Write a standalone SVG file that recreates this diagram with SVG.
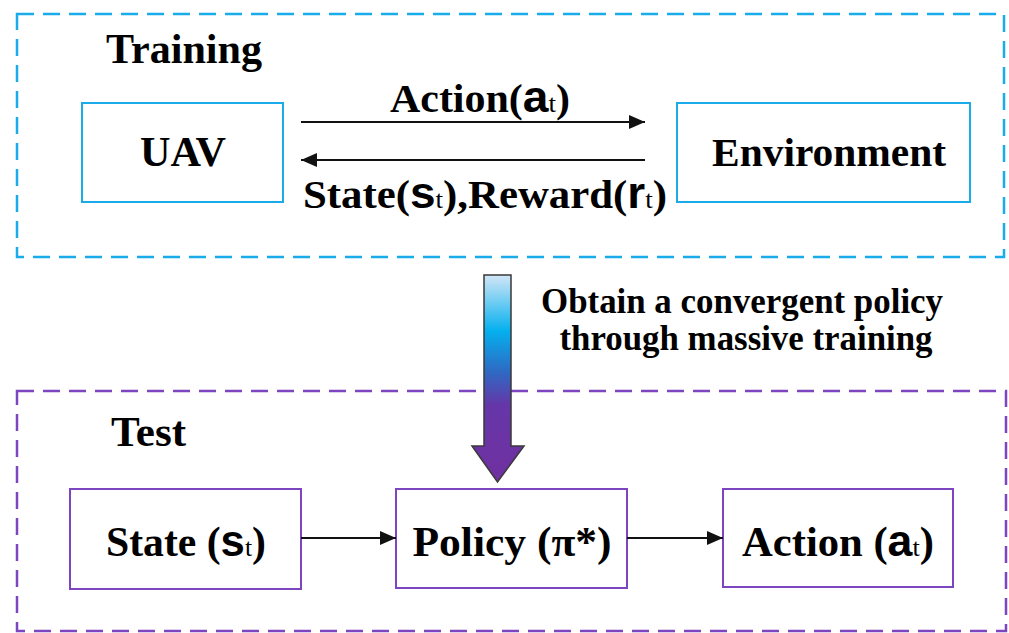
<svg xmlns="http://www.w3.org/2000/svg" width="1009" height="633" viewBox="0 0 1009 633">
  <style>
    .bg { fill: #ffffff; }
    .frame-train { fill: none; stroke: #1aabeb; stroke-width: 2.5; stroke-dasharray: 17 9; }
    .frame-test { fill: none; stroke: #7d45c0; stroke-width: 2.5; stroke-dasharray: 17 9; }
    .box-train { fill: #ffffff; stroke: #1aabeb; stroke-width: 2; }
    .box-test { fill: #ffffff; stroke: #7d45c0; stroke-width: 2; }
    .lbl { font-family: "Liberation Serif", "Times New Roman", serif; font-weight: bold; fill: #000000; }
    .big { font-family: "Liberation Sans", Arial, sans-serif; font-weight: bold; font-size: 44px; }
    .sub { font-family: "Liberation Serif", "Times New Roman", serif; font-weight: normal; font-size: 26px; }
    .conn { stroke: #111111; stroke-width: 2; fill: none; }
  </style>
  <defs>
    <marker id="tip" markerUnits="userSpaceOnUse" markerWidth="18" markerHeight="16" refX="16" refY="7" orient="auto">
      <path d="M0,0 L16,7 L0,14 Z" fill="#111111"/>
    </marker>
    <linearGradient id="flow" x1="0" y1="275" x2="0" y2="482" gradientUnits="userSpaceOnUse">
      <stop offset="0" stop-color="#d2e6f6"/>
      <stop offset="0.27" stop-color="#05b0ef"/>
      <stop offset="0.46" stop-color="#2c6cc4"/>
      <stop offset="0.63" stop-color="#6636a8"/>
      <stop offset="1" stop-color="#7030a0"/>
    </linearGradient>
  </defs>

  <rect class="bg" x="0" y="0" width="1009" height="633"/>

  <!-- training stage -->
  <g id="training-frame">
    <rect class="frame-train" x="17" y="14" width="987" height="243"/>
    <text class="lbl" x="106" y="63" font-size="43" textLength="156" lengthAdjust="spacingAndGlyphs">Training</text>
  </g>
  <g id="uav">
    <rect class="box-train" x="82" y="103" width="201" height="99"/>
    <text class="lbl" x="183" y="166" font-size="42" text-anchor="middle" textLength="86" lengthAdjust="spacingAndGlyphs">UAV</text>
  </g>
  <g id="environment">
    <rect class="box-train" x="677" y="103" width="293" height="99"/>
    <text class="lbl" x="829" y="166" font-size="41" text-anchor="middle" textLength="234" lengthAdjust="spacingAndGlyphs">Environment</text>
  </g>

  <!-- test stage -->
  <g id="test-frame">
    <rect class="frame-test" x="17" y="391" width="989" height="240"/>
    <text class="lbl" x="111" y="446" font-size="42" textLength="75" lengthAdjust="spacingAndGlyphs">Test</text>
  </g>
  <g id="state">
    <rect class="box-test" x="70" y="489" width="231" height="100"/>
    <text class="lbl" x="186" y="556" font-size="42" text-anchor="middle" textLength="160" lengthAdjust="spacingAndGlyphs">State (<tspan class="big">s</tspan><tspan class="sub">t</tspan>)</text>
  </g>
  <g id="policy">
    <rect class="box-test" x="396" y="489" width="231" height="99"/>
    <text class="lbl" x="512" y="556" font-size="42" text-anchor="middle" textLength="199" lengthAdjust="spacingAndGlyphs">Policy (π*)</text>
  </g>
  <g id="action">
    <rect class="box-test" x="723" y="489" width="230" height="98"/>
    <text class="lbl" x="838" y="556" font-size="42" text-anchor="middle" textLength="192" lengthAdjust="spacingAndGlyphs">Action (<tspan class="big">a</tspan><tspan class="sub">t</tspan>)</text>
  </g>

  <!-- transfer from training to test -->
  <g id="transfer">
    <path d="M484,275 L511,275 L511,446 L524,446 L497.5,482 L472,446 L484,446 Z" fill="url(#flow)" stroke="#3a3a3a" stroke-width="1.5" stroke-linejoin="miter"/>
    <text class="lbl" x="742" y="313" font-size="36" text-anchor="middle" textLength="402" lengthAdjust="spacingAndGlyphs">Obtain a convergent policy</text>
    <text class="lbl" x="746" y="350" font-size="36" text-anchor="middle" textLength="373" lengthAdjust="spacingAndGlyphs">through massive training</text>
  </g>

  <!-- connectors -->
  <g id="connectors">
    <line class="conn" x1="301" y1="122" x2="645" y2="122" marker-end="url(#tip)"/>
    <line class="conn" x1="645" y1="160" x2="301" y2="160" marker-end="url(#tip)"/>
    <line class="conn" x1="301" y1="538" x2="396" y2="538" marker-end="url(#tip)"/>
    <line class="conn" x1="627" y1="538" x2="723" y2="538" marker-end="url(#tip)"/>
    <text class="lbl" x="480" y="112" font-size="40" text-anchor="middle" textLength="180" lengthAdjust="spacingAndGlyphs">Action(<tspan class="big">a</tspan><tspan class="sub">t</tspan>)</text>
    <text class="lbl" x="485" y="208" font-size="41" text-anchor="middle" textLength="364" lengthAdjust="spacingAndGlyphs">State(<tspan class="big">s</tspan><tspan class="sub">t</tspan>),Reward(<tspan class="big">r</tspan><tspan class="sub">t</tspan>)</text>
  </g>
</svg>
